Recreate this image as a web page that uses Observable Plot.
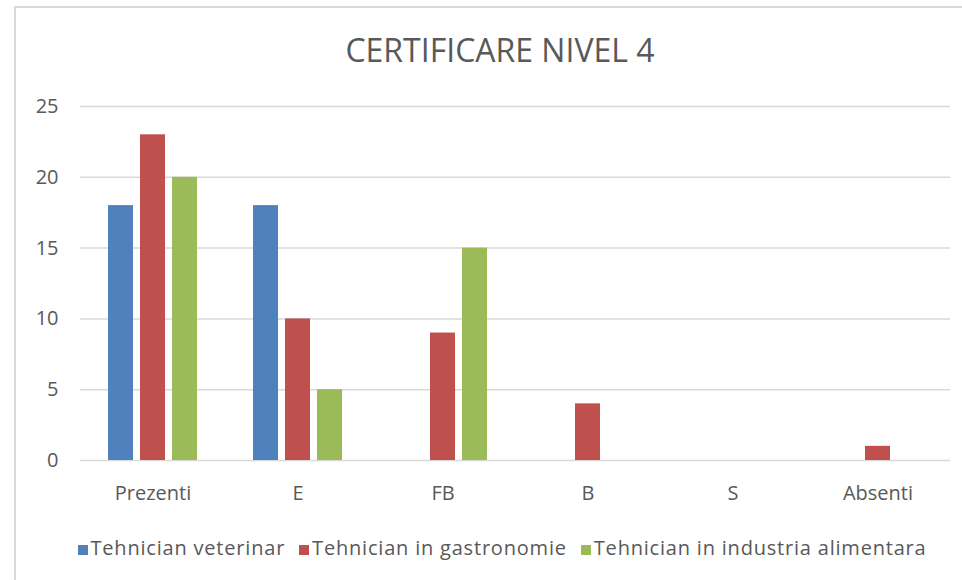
<!DOCTYPE html>
<html>
<head>
<meta charset="utf-8">
<script src="https://cdn.jsdelivr.net/npm/d3@7"></script>
<script src="https://cdn.jsdelivr.net/npm/@observablehq/plot@0.6"></script>
<style>
  html, body { margin: 0; padding: 0; background: #fff; overflow: hidden; }
  #wrap { position: relative; width: 962px; height: 580px; overflow: hidden; font-family: "Open Sans", sans-serif; }
  #frame { position: absolute; left: 14px; top: 6px; width: 1000px; height: 700px; border: 2px solid #d9d9d9; box-sizing: border-box; }
  #title { position: absolute; left: 0; top: 34px; width: 1000px; text-align: center; font-size: 32px; line-height: 1; color: #595959; }
  #chart { position: absolute; left: 0; top: 80px; }
  #legend { position: absolute; left: 0; top: 538px; width: 1004px; display: flex; justify-content: center; gap: 14px; font-size: 20px; line-height: 1; color: #595959; letter-spacing: 0.8px; }
  #legend .item { display: flex; align-items: center; gap: 3px; }
  #legend .sw { width: 10px; height: 10px; display: inline-block; margin-top: 4px; }
</style>
</head>
<body>
<div id="wrap">
  <div id="frame"></div>
  <div id="title"></div>
  <div id="chart"></div>
  <div id="legend"></div>
</div>
<script>
const title = "CERTIFICARE NIVEL 4";
const categories = ["Prezenti", "E", "FB", "B", "S", "Absenti"];
const seriesNames = ["Tehnician veterinar", "Tehnician in gastronomie", "Tehnician in industria alimentara"];
const seriesColors = ["#4F81BD", "#C0504D", "#9BBB59"];
const veterinar = [18, 18, 0, 0, 0, 0];
const gastronomie = [23, 10, 9, 4, 0, 1];
const industria = [20, 5, 15, 0, 0, 0];
const yTicks = [0, 5, 10, 15, 20, 25];

const seriesValues = [veterinar, gastronomie, industria];
const data = [];
categories.forEach((c, i) => {
  seriesNames.forEach((s, j) => {
    data.push({category: c, series: s, value: seriesValues[j][i]});
  });
});

document.getElementById("title").textContent = title;

const chart = Plot.plot({
  width: 962,
  height: 430,
  marginLeft: 80,
  marginRight: 12,
  marginTop: 26,
  marginBottom: 50,
  style: {fontFamily: "Open Sans, sans-serif", fontSize: "20px", color: "#595959", background: "transparent"},
  fx: {domain: categories, padding: 0, label: null, axis: null},
  x: {domain: seriesNames, paddingInner: 0.21875, paddingOuter: 0.875, axis: null},
  y: {domain: [0, 25], axis: null},
  color: {domain: seriesNames, range: seriesColors},
  marks: [
    Plot.ruleY(yTicks, {y: d => d, stroke: "#d9d9d9", strokeWidth: 1.5, strokeOpacity: 1}),
    Plot.barY(data, {fx: "category", x: "series", y: "value", fill: "series", inset: 0}),
    Plot.axisY(yTicks, {tickSize: 0, tickPadding: 22, fill: "#595959", label: null, facetAnchor: "left", fontSize: 20}),
    Plot.axisFx({tickSize: 0, tickPadding: 25, fill: "#595959", label: null, fontSize: 20, letterSpacing: 0.8, anchor: "bottom"})
  ]
});
document.getElementById("chart").appendChild(chart);

const legend = document.getElementById("legend");
seriesNames.forEach((s, j) => {
  const item = document.createElement("div");
  item.className = "item";
  const sw = document.createElement("span");
  sw.className = "sw";
  sw.style.background = seriesColors[j];
  const t = document.createElement("span");
  t.textContent = s;
  item.appendChild(sw);
  item.appendChild(t);
  legend.appendChild(item);
});
</script>
</body>
</html>
